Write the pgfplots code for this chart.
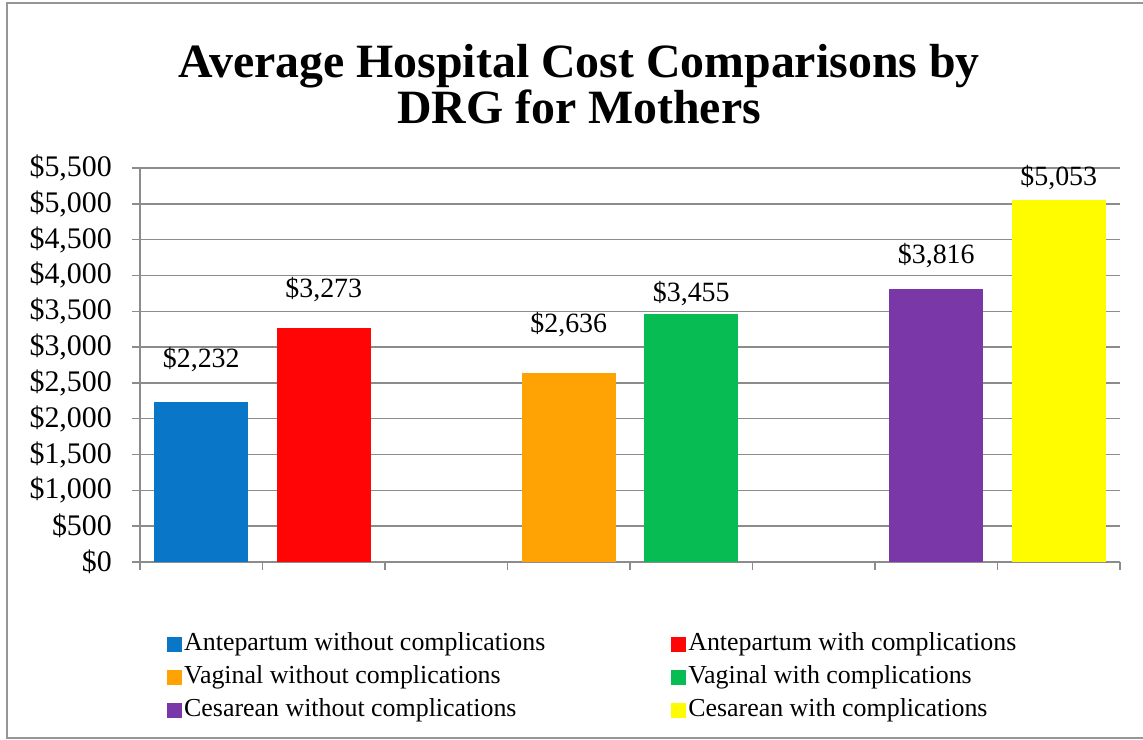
\documentclass[border=0pt]{standalone}
\usepackage{pgfplots}
\pgfplotsset{compat=1.18}
\usepackage{fontspec}
\setmainfont{Liberation Serif}

\definecolor{cBlue}{RGB}{10,118,200}
\definecolor{cRed}{RGB}{255,5,5}
\definecolor{cOrange}{RGB}{255,163,5}
\definecolor{cGreen}{RGB}{8,188,84}
\definecolor{cPurple}{RGB}{121,55,168}
\definecolor{cYellow}{RGB}{255,252,0}
\definecolor{gridgray}{RGB}{140,140,140}
\definecolor{framegray}{RGB}{150,150,150}

\begin{document}
\begin{tikzpicture}
\useasboundingbox (0,0) rectangle (1143bp,740bp);

% chart frame (cut off at the right)
\draw[framegray, line width=1.5bp] (1143bp,737bp) -- (7bp,737bp) -- (7bp,2bp) -- (1143bp,2bp);

% title
\node[anchor=base, font=\fontsize{48}{50}\selectfont\bfseries] at (579bp,662bp) {Average Hospital Cost Comparisons by};
\node[anchor=base, font=\fontsize{48}{50}\selectfont\bfseries] at (579bp,616bp) {DRG for Mothers};

\begin{axis}[
    at={(140bp,178bp)}, anchor=south west,
    scale only axis, width=980bp, height=394bp,
    ybar, bar width=0.77, bar shift=0pt,
    xmin=-0.5, xmax=7.5, ymin=0, ymax=5500,
    xtick={-0.5,0.5,...,7.5}, xticklabels={},
    ytick={0,500,...,5500},
    yticklabels={{\$0},{\$500},{\$1,000},{\$1,500},{\$2,000},{\$2,500},{\$3,000},{\$3,500},{\$4,000},{\$4,500},{\$5,000},{\$5,500}},
    yticklabel style={font=\fontsize{30}{34}\selectfont, inner sep=2bp, xshift=-18bp},
    axis x line*=bottom, axis y line*=left,
    axis line style={-, draw=gridgray, line width=1.5bp},
    tick align=outside, major tick length=8bp,
    tick style={draw=gridgray, line width=1.5bp},
    ymajorgrids=true, xmajorgrids=false,
    grid style={draw=gridgray, line width=1.5bp},
    nodes near coords={\$\pgfmathprintnumber[assume math mode=true,1000 sep={,}]{\pgfplotspointmeta}},
    nodes near coords style={font=\fontsize{28}{32}\selectfont, anchor=south, inner sep=0bp},
    legend columns=2,
    legend cell align=left,
    legend style={at={(0.462,-0.292)}, anchor=center, draw=none, fill=none,
        font=\fontsize{26}{30}\selectfont,
        nodes={inner sep=2bp, text height=18bp, text depth=6bp},
        row sep=5bp,
        /tikz/every even column/.append style={column sep=124bp}},
    legend image code/.code={\fill[#1] (-3bp,-7.5bp) rectangle (12bp,7.5bp);},
    clip=false,
]
\addplot[fill=cBlue, draw=none, nodes near coords style={yshift=30bp}] coordinates {(0,2232)};
\addplot[fill=cRed, draw=none, nodes near coords style={yshift=26bp}] coordinates {(1,3273)};
\addplot[fill=cOrange, draw=none, nodes near coords style={yshift=36bp}] coordinates {(3,2636)};
\addplot[fill=cGreen, draw=none, nodes near coords style={yshift=9bp}] coordinates {(4,3455)};
\addplot[fill=cPurple, draw=none, nodes near coords style={yshift=21bp}] coordinates {(6,3816)};
\addplot[fill=cYellow, draw=none, nodes near coords style={yshift=10bp}] coordinates {(7,5053)};
\legend{Antepartum without complications, Antepartum with complications,
        Vaginal without complications, Vaginal with complications,
        Cesarean without complications, Cesarean with complications}
\end{axis}
\end{tikzpicture}
\end{document}
